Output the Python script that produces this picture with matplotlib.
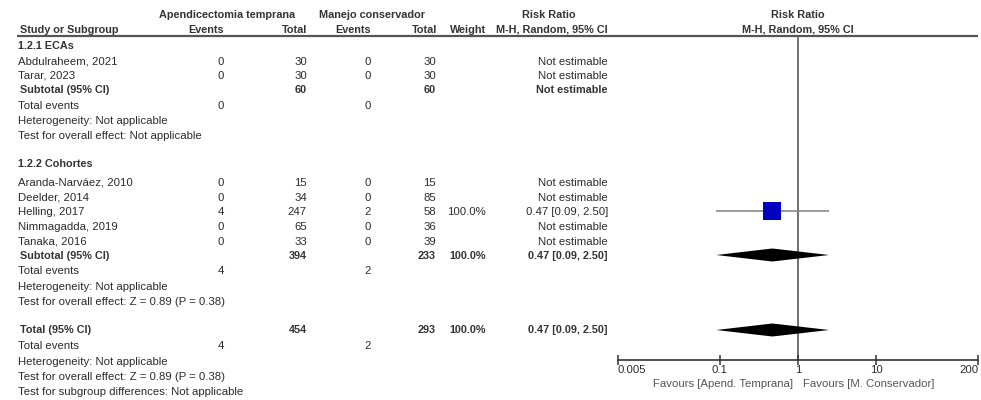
import matplotlib
matplotlib.use("Agg")
import matplotlib.pyplot as plt
from matplotlib.ticker import NullLocator

# ---- data -------------------------------------------------------------
ecas_studies = ["Abdulraheem, 2021", "Tarar, 2023"]
ecas_exp_events = [0, 0]
ecas_exp_total = [30, 30]
ecas_ctrl_events = [0, 0]
ecas_ctrl_total = [30, 30]
ecas_weight = ["", ""]
ecas_rr = ["Not estimable", "Not estimable"]

coh_studies = ["Aranda-Narváez, 2010", "Deelder, 2014", "Helling, 2017",
               "Nimmagadda, 2019", "Tanaka, 2016"]
coh_exp_events = [0, 0, 4, 0, 0]
coh_exp_total = [15, 34, 247, 65, 33]
coh_ctrl_events = [0, 0, 2, 0, 0]
coh_ctrl_total = [15, 85, 58, 36, 39]
coh_weight = ["", "", "100.0%", "", ""]
coh_rr = [None, None, 0.47, None, None]
coh_lo = [None, None, 0.09, None, None]
coh_hi = [None, None, 2.50, None, None]

coh_sub_rr, coh_sub_lo, coh_sub_hi = 0.47, 0.09, 2.50
total_rr, total_lo, total_hi = 0.47, 0.09, 2.50

axis_ticks = [0.005, 0.1, 1, 10, 200]
axis_tick_labels = ["0.005", "0.1", "1", "10", "200"]

# ---- figure -----------------------------------------------------------
W, H = 981, 400
fig = plt.figure(figsize=(W / 100, H / 100), dpi=100)
fig.patch.set_facecolor("white")

FONT = "Liberation Sans"
FS = 8.2
FS_B = 7.8
TXT = "#2b2b2b"
HEAD = "#333333"

tx = fig.add_axes([0, 0, 1, 1])
tx.set_xlim(0, W)
tx.set_ylim(H, 0)
tx.axis("off")


def put(x, y, s, ha="left", bold=False, color=TXT):
    tx.text(x, y + 3.6, s, ha=ha, va="baseline",
            fontsize=FS_B if bold else FS, family=FONT,
            fontweight="bold" if bold else "normal", color=color)


# column anchors (pixels)
X_NAME = 18
X_EEV = 221
X_ETOT = 307
X_CEV = 368
X_CTOT = 436
X_W = 486
X_RR = 608

# headers
put(227, 14, "Apendicectomia temprana", ha="center", bold=True, color=HEAD)
put(372, 14, "Manejo conservador", ha="center", bold=True, color=HEAD)
put(549, 14, "Risk Ratio", ha="center", bold=True, color=HEAD)
put(798, 14, "Risk Ratio", ha="center", bold=True, color=HEAD)
put(20, 29, "Study or Subgroup", bold=True, color=HEAD)
put(206, 29, "Events", ha="center", bold=True, color=HEAD)
put(X_ETOT, 29, "Total", ha="right", bold=True, color=HEAD)
put(353, 29, "Events", ha="center", bold=True, color=HEAD)
put(X_CTOT + 1, 29, "Total", ha="right", bold=True, color=HEAD)
put(X_W, 29, "Weight", ha="right", bold=True, color=HEAD)
put(X_RR, 29, "M-H, Random, 95% CI", ha="right", bold=True, color=HEAD)
put(798, 29, "M-H, Random, 95% CI", ha="center", bold=True, color=HEAD)
tx.plot([17, 978], [36, 36], color="#555555", lw=1.6, solid_capstyle="butt")


def study_row(y, name, ee, et, ce, ct, w, rr_text):
    put(X_NAME, y, name)
    put(X_EEV, y, str(ee), ha="center")
    put(X_ETOT, y, str(et), ha="right")
    put(X_CEV, y, str(ce), ha="center")
    put(X_CTOT, y, str(ct), ha="right")
    if w:
        put(X_W, y, w, ha="right")
    put(X_RR, y, rr_text, ha="right")


def ci_text(rr, lo, hi):
    return f"{rr:.2f} [{lo:.2f}, {hi:.2f}]"


# forest axes: log risk ratio, y measured in figure pixel rows
fx = fig.add_axes([618 / W, (H - 360) / H, 360 / W, (360 - 36) / H])
fx.patch.set_alpha(0)
fx.set_xscale("log")
fx.set_xlim(axis_ticks[0], axis_ticks[-1])
fx.set_ylim(360, 36)
for s in ("top", "right", "left"):
    fx.spines[s].set_visible(False)
fx.spines["bottom"].set_color("#333333")
fx.spines["bottom"].set_linewidth(1.2)
fx.yaxis.set_major_locator(NullLocator())
fx.xaxis.set_minor_locator(NullLocator())
fx.set_xticks(axis_ticks)
fx.set_xticklabels(axis_tick_labels, family=FONT, fontsize=FS, color=TXT)
fx.tick_params(axis="x", direction="inout", length=7, width=1.1,
               color="#333333", pad=0)
labs = fx.get_xticklabels()
labs[0].set_ha("left")
labs[-1].set_ha("right")
fx.axvline(1, color="#666666", lw=1.3, zorder=1)


def diamond(y, rr, lo, hi, half=6.5):
    fx.fill([lo, rr, hi, rr], [y, y - half, y, y + half],
            color="black", lw=0, zorder=3)


# ---- subgroup 1.2.1 ----
put(X_NAME, 45, "1.2.1 ECAs", bold=True, color=HEAD)
ys = [61, 75]
for i, y in enumerate(ys):
    study_row(y, ecas_studies[i], ecas_exp_events[i], ecas_exp_total[i],
              ecas_ctrl_events[i], ecas_ctrl_total[i], ecas_weight[i], ecas_rr[i])
put(20, 89, "Subtotal (95% CI)", bold=True, color=HEAD)
put(X_ETOT, 89, str(sum(ecas_exp_total)), ha="right", bold=True, color=HEAD)
put(X_CTOT, 89, str(sum(ecas_ctrl_total)), ha="right", bold=True, color=HEAD)
put(X_RR, 89, "Not estimable", ha="right", bold=True, color=HEAD)
put(X_NAME, 105, "Total events")
put(X_EEV, 105, str(sum(ecas_exp_events)), ha="center")
put(X_CEV, 105, str(sum(ecas_ctrl_events)), ha="center")
put(X_NAME, 120, "Heterogeneity: Not applicable")
put(X_NAME, 135, "Test for overall effect: Not applicable")

# ---- subgroup 1.2.2 ----
put(X_NAME, 163, "1.2.2 Cohortes", bold=True, color=HEAD)
ys = [182, 197, 211, 226, 241]
for i, y in enumerate(ys):
    if coh_rr[i] is None:
        rr_text = "Not estimable"
    else:
        rr_text = ci_text(coh_rr[i], coh_lo[i], coh_hi[i])
        fx.plot([coh_lo[i], coh_hi[i]], [y, y], color="#8a8a8a", lw=1.2,
                zorder=2, solid_capstyle="butt")
        fx.plot([coh_rr[i]], [y], marker="s", ms=12.6, color="#0000C0",
                mec="#0000C0", mew=0, zorder=4)
    study_row(y, coh_studies[i], coh_exp_events[i], coh_exp_total[i],
              coh_ctrl_events[i], coh_ctrl_total[i], coh_weight[i], rr_text)
put(20, 255, "Subtotal (95% CI)", bold=True, color=HEAD)
put(X_ETOT, 255, str(sum(coh_exp_total)), ha="right", bold=True, color=HEAD)
put(X_CTOT, 255, str(sum(coh_ctrl_total)), ha="right", bold=True, color=HEAD)
put(X_W, 255, "100.0%", ha="right", bold=True, color=HEAD)
put(X_RR, 255, ci_text(coh_sub_rr, coh_sub_lo, coh_sub_hi), ha="right",
    bold=True, color=HEAD)
diamond(255, coh_sub_rr, coh_sub_lo, coh_sub_hi)
put(X_NAME, 270, "Total events")
put(X_EEV, 270, str(sum(coh_exp_events)), ha="center")
put(X_CEV, 270, str(sum(coh_ctrl_events)), ha="center")
put(X_NAME, 286, "Heterogeneity: Not applicable")
put(X_NAME, 301, "Test for overall effect: Z = 0.89 (P = 0.38)")

# ---- overall ----
put(20, 329, "Total (95% CI)", bold=True, color=HEAD)
put(X_ETOT, 329, str(sum(ecas_exp_total) + sum(coh_exp_total)), ha="right",
    bold=True, color=HEAD)
put(X_CTOT, 329, str(sum(ecas_ctrl_total) + sum(coh_ctrl_total)), ha="right",
    bold=True, color=HEAD)
put(X_W, 329, "100.0%", ha="right", bold=True, color=HEAD)
put(X_RR, 329, ci_text(total_rr, total_lo, total_hi), ha="right", bold=True,
    color=HEAD)
diamond(330, total_rr, total_lo, total_hi)
put(X_NAME, 345, "Total events")
put(X_EEV, 345, str(sum(ecas_exp_events) + sum(coh_exp_events)), ha="center")
put(X_CEV, 345, str(sum(ecas_ctrl_events) + sum(coh_ctrl_events)), ha="center")
put(X_NAME, 361, "Heterogeneity: Not applicable")
put(X_NAME, 376, "Test for overall effect: Z = 0.89 (P = 0.38)")
put(X_NAME, 391, "Test for subgroup differences: Not applicable")

# favours labels under the axis
put(793, 383, "Favours [Apend. Temprana]", ha="right", color="#555555")
put(803, 383, "Favours [M. Conservador]", ha="left", color="#555555")

fig.savefig("out.png", dpi=100, facecolor="white")
